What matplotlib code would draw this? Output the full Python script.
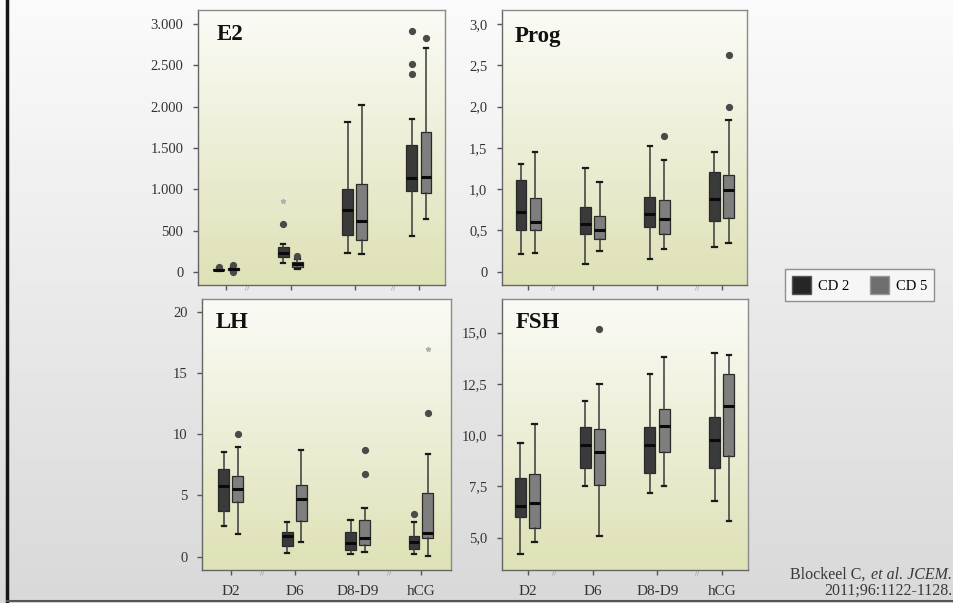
import numpy as np
import matplotlib
matplotlib.use("Agg")
import matplotlib.pyplot as plt
from matplotlib.patches import Patch
import matplotlib.transforms as mtransforms

# ---- data (5-number summaries: whisker low, q1, median, q3, whisker high) ----
groups = ["D2", "D6", "D8-D9", "hCG"]

e2_cd2 = [(15, 25, 30, 40, 45), (113, 182, 230, 303, 335),
          (234, 444, 755, 1010, 1810), (432, 981, 1143, 1534, 1845)]
e2_cd2_fliers = [[60], [585], [], [2394, 2516, 2920]]
e2_cd2_extremes = [[], [856], [], []]
e2_cd5 = [(15, 30, 40, 50, 60), (40, 61, 93, 121, 160),
          (222, 392, 614, 1070, 2019), (646, 961, 1155, 1696, 2710)]
e2_cd5_fliers = [[80, 0], [194], [], [2831]]
e2_cd5_extremes = [[], [], [], []]

prog_cd2 = [(0.21, 0.50, 0.72, 1.11, 1.30), (0.10, 0.46, 0.58, 0.79, 1.26),
            (0.16, 0.54, 0.70, 0.91, 1.52), (0.30, 0.62, 0.88, 1.21, 1.45)]
prog_cd2_fliers = [[], [], [], []]
prog_cd2_extremes = [[], [], [], []]
prog_cd5 = [(0.23, 0.50, 0.60, 0.89, 1.45), (0.25, 0.40, 0.50, 0.67, 1.09),
            (0.27, 0.46, 0.64, 0.87, 1.35), (0.35, 0.65, 0.99, 1.17, 1.84)]
prog_cd5_fliers = [[], [], [1.65], [1.99, 2.63]]
prog_cd5_extremes = [[], [], [], []]

lh_cd2 = [(2.53, 3.70, 5.77, 7.18, 8.52), (0.33, 0.90, 1.65, 1.99, 2.80),
          (0.19, 0.54, 1.09, 1.99, 3.02), (0.24, 0.63, 1.22, 1.71, 2.80)]
lh_cd2_fliers = [[], [], [], [3.46]]
lh_cd2_extremes = [[], [], [], []]
lh_cd5 = [(1.82, 4.49, 5.55, 6.59, 8.98), (1.20, 2.91, 4.73, 5.85, 8.71),
          (0.41, 0.95, 1.50, 2.97, 4.00), (0.08, 1.50, 1.90, 5.17, 8.38)]
lh_cd5_fliers = [[10.04], [], [6.78, 8.68], [11.73]]
lh_cd5_extremes = [[], [], [], [16.95]]

fsh_cd2 = [(4.20, 6.00, 6.55, 7.91, 9.60), (7.50, 8.38, 9.52, 10.39, 11.68),
           (7.18, 8.14, 9.52, 10.41, 12.97), (6.79, 8.41, 9.76, 10.88, 14.00)]
fsh_cd2_fliers = [[], [], [], []]
fsh_cd2_extremes = [[], [], [], []]
fsh_cd5 = [(4.79, 5.47, 6.69, 8.10, 10.53), (5.10, 7.57, 9.16, 10.28, 12.50),
           (7.50, 9.19, 10.46, 11.26, 13.82), (5.80, 9.00, 11.40, 13.00, 13.90)]
fsh_cd5_fliers = [[], [15.2], [], []]
fsh_cd5_extremes = [[], [], [], []]

e2_ticks = [0, 500, 1000, 1500, 2000, 2500, 3000]
e2_ticklabels = ["0", "500", "1.000", "1.500", "2.000", "2.500", "3.000"]
prog_ticks = [0, 0.5, 1.0, 1.5, 2.0, 2.5, 3.0]
prog_ticklabels = ["0", "0,5", "1,0", "1,5", "2,0", "2,5", "3,0"]
lh_ticks = [0, 5, 10, 15, 20]
lh_ticklabels = ["0", "5", "10", "15", "20"]
fsh_ticks = [5, 7.5, 10, 12.5, 15]
fsh_ticklabels = ["5,0", "7,5", "10,0", "12,5", "15,0"]

DARK = "#3a3a3a"
GREY = "#7e7e7e"
SERIF = ["Liberation Serif", "DejaVu Serif"]

W, H = 954, 603
fig = plt.figure(figsize=(W / 100, H / 100), dpi=100)

# slide background
bg = fig.add_axes([0, 0, 1, 1], zorder=-5)
grad = np.linspace(0, 1, 256)[:, None]
bg.imshow(grad, aspect="auto", extent=[0, 1, 0, 1], origin="upper",
          cmap=matplotlib.colors.LinearSegmentedColormap.from_list("s", ["#fbfbfb", "#d8d9d8"]))
bg.set_xlim(0, 1)
bg.set_ylim(0, 1)
bg.axis("off")
bg.plot([7.5 / W, 7.5 / W], [0, 1], color="#151515", lw=2.5)
bg.plot([7.5 / W, 1], [1 - 600.5 / H, 1 - 600.5 / H], color="#555555", lw=1.5)

panel_cmap = matplotlib.colors.LinearSegmentedColormap.from_list("p", ["#fbfbf6", "#dfe1b6"])


def px_axes(left, top, right, bottom):
    return fig.add_axes([left / W, 1 - bottom / H, (right - left) / W, (bottom - top) / H])


def make_stats(summary, fliers):
    out = []
    for (lo, q1, med, q3, hi), fl in zip(summary, fliers):
        out.append(dict(whislo=lo, q1=q1, med=med, q3=q3, whishi=hi, fliers=fl))
    return out


def panel(ax, title, cd2, cd2_fl, cd2_ex, cd5, cd5_fl, cd5_ex, yticks, ylabels,
          ylim, xlim, show_xlabels, breaks, title_pos):
    ax.imshow(np.linspace(0, 1, 256)[:, None], aspect="auto", cmap=panel_cmap,
              extent=[0, 1, 0, 1], origin="upper", transform=ax.transAxes, zorder=0)
    x = np.arange(len(groups))
    for data, fl, ex, col, off in [(cd2, cd2_fl, cd2_ex, DARK, -0.115),
                                   (cd5, cd5_fl, cd5_ex, GREY, 0.105)]:
        ax.bxp(make_stats(data, fl), positions=x + off, widths=0.17, patch_artist=True,
               capwidths=0.07, manage_ticks=False,
               boxprops=dict(facecolor=col, edgecolor="#2a2a2a", lw=0.9),
               medianprops=dict(color="#0a0a0a", lw=2.2),
               whiskerprops=dict(color="#3a3a3a", lw=1.1),
               capprops=dict(color="#1a1a1a", lw=1.6),
               flierprops=dict(marker="o", markersize=4.2, markerfacecolor="#4a4a4a",
                               markeredgecolor="#4a4a4a"))
        for i, vals in enumerate(ex):
            if vals:
                ax.plot([x[i] + off] * len(vals), vals, marker="*", ls="none",
                        markersize=3.5, color="#b0b0b0", zorder=3)
    ax.set_xlim(*xlim)
    ax.set_ylim(*ylim)
    ax.set_yticks(yticks)
    ax.set_yticklabels(ylabels, family=SERIF, fontsize=10.5, color="#333333")
    ax.set_xticks(x)
    if show_xlabels:
        ax.set_xticklabels(groups, family=SERIF, fontsize=11, color="#333333")
    else:
        ax.set_xticklabels([])
    ax.tick_params(axis="both", length=3.5, width=1, color="#555555", pad=7)
    ax.tick_params(axis="x", pad=7)
    for s in ax.spines.values():
        s.set_color("#8a8a8a")
        s.set_linewidth(1.0)
    ax.spines["bottom"].set_color("#666666")
    ax.spines["left"].set_color("#666666")
    ax.text(title_pos[0], title_pos[1], title, transform=ax.transAxes, family=SERIF,
            fontsize=16.5, fontweight="bold", va="center", ha="left", color="#111111")
    trans = mtransforms.blended_transform_factory(ax.transData, ax.transAxes)
    for b in breaks:
        ax.text(b, -0.012, "//", transform=trans, fontsize=4.5, color="#909090",
                ha="center", va="center", clip_on=False)


ax_e2 = px_axes(198, 10, 445, 285)
panel(ax_e2, "E2", e2_cd2, e2_cd2_fliers, e2_cd2_extremes, e2_cd5, e2_cd5_fliers,
      e2_cd5_extremes, e2_ticks, e2_ticklabels, (-157, 3169), (-0.44, 3.4), False,
      [0.33, 2.6], (0.075, 0.91))

ax_prog = px_axes(502, 10, 747, 285)
panel(ax_prog, "Prog", prog_cd2, prog_cd2_fliers, prog_cd2_extremes, prog_cd5,
      prog_cd5_fliers, prog_cd5_extremes, prog_ticks, prog_ticklabels, (-0.16, 3.17),
      (-0.41, 3.39), False, [0.38, 2.62], (0.05, 0.905))

ax_lh = px_axes(202, 299, 451, 570)
panel(ax_lh, "LH", lh_cd2, lh_cd2_fliers, lh_cd2_extremes, lh_cd5, lh_cd5_fliers,
      lh_cd5_extremes, lh_ticks, lh_ticklabels, (-1.09, 21.04), (-0.46, 3.47), True,
      [0.49, 2.49], (0.053, 0.915))

ax_fsh = px_axes(502, 299, 748, 570)
panel(ax_fsh, "FSH", fsh_cd2, fsh_cd2_fliers, fsh_cd2_extremes, fsh_cd5, fsh_cd5_fliers,
      fsh_cd5_extremes, fsh_ticks, fsh_ticklabels, (3.42, 16.64), (-0.40, 3.40), True,
      [0.40, 2.62], (0.055, 0.915))

# legend
handles = [Patch(facecolor="#262626", edgecolor="#555555", label="CD 2"),
           Patch(facecolor="#6e6e6e", edgecolor="#999999", label="CD 5")]
leg = fig.legend(handles=handles, loc="center", bbox_to_anchor=(859.5 / W, 1 - 285 / H),
                 ncol=2, frameon=True, fancybox=False, handlelength=1.3, handleheight=1.6,
                 columnspacing=1.4, handletextpad=0.5, borderpad=0.45,
                 prop=dict(family=SERIF, size=10.5))
leg.get_frame().set_edgecolor("#777777")
leg.get_frame().set_linewidth(1.0)
leg.get_frame().set_facecolor("#fafafa")

# citation (regular + italic run, right aligned)
fig.canvas.draw()
r = fig.canvas.get_renderer()
t_it = fig.text(952 / W, 1 - 575 / H, "et al. JCEM.", family=SERIF, style="italic",
                fontsize=11.5, ha="right", va="center", color="#3a3a3a")
ext = t_it.get_window_extent(r)
fig.text(ext.x0 / W - 0.002, 1 - 575 / H, "Blockeel C, ", family=SERIF, fontsize=11.5,
         ha="right", va="center", color="#3a3a3a")
fig.text(952 / W, 1 - 591 / H, "2011;96:1122-1128.", family=SERIF, fontsize=11.5,
         ha="right", va="center", color="#3a3a3a")

fig.savefig("out.png", dpi=100)
